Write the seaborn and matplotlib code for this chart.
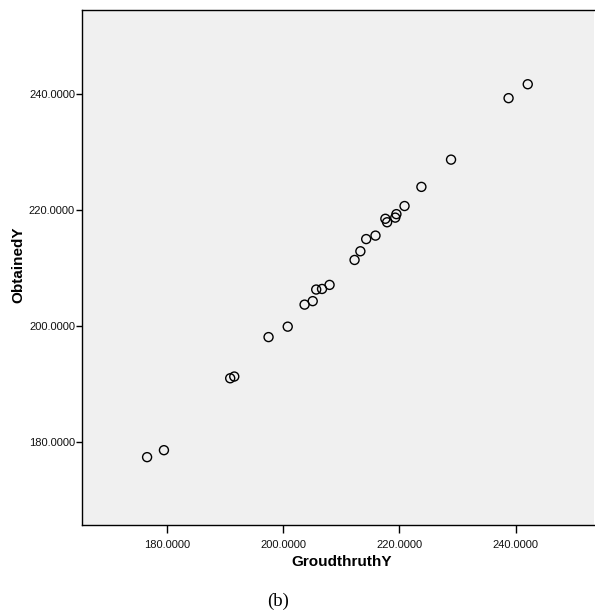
import matplotlib
matplotlib.use("Agg")
import matplotlib.pyplot as plt
import seaborn as sns
import pandas as pd
from matplotlib.ticker import FixedLocator, FuncFormatter

# Data
groundtruth_y = [176.6, 179.5, 190.9, 191.6, 197.5, 200.8, 203.7, 205.1, 205.7, 206.7,
                 208.0, 212.3, 213.3, 214.3, 215.9, 217.6, 217.9, 219.3, 219.5, 220.9,
                 223.8, 228.9, 238.8, 242.1]
obtained_y = [177.4, 178.6, 191.0, 191.3, 198.1, 199.9, 203.7, 204.3, 206.3, 206.4,
              207.1, 211.4, 212.9, 215.0, 215.6, 218.5, 217.9, 218.7, 219.3, 220.7,
              224.0, 228.7, 239.3, 241.7]
tick_values = [180, 200, 220, 240]
x_label = "GroudthruthY"
y_label = "ObtainedY"
caption = "(b)"

df = pd.DataFrame({x_label: groundtruth_y, y_label: obtained_y})

sns.set_theme(style="white")
plt.rcParams['font.family'] = ['Liberation Sans', 'DejaVu Sans']

fig = plt.figure(figsize=(5.95, 6.11), dpi=100)
ax = fig.add_axes([82/595, 1 - 525/611, (594 - 82)/595, (525 - 10)/611])
ax.set_facecolor("#f0f0f0")

sns.scatterplot(data=df, x=x_label, y=y_label, ax=ax, marker="o",
                facecolor="none", edgecolor="black", linewidth=1.0, s=42)

ax.set_xlim(165.4, 253.5)
ax.set_ylim(165.7, 254.5)
fmt = FuncFormatter(lambda v, p: f"{v:.4f}")
ax.xaxis.set_major_locator(FixedLocator(tick_values))
ax.yaxis.set_major_locator(FixedLocator(tick_values))
ax.xaxis.set_major_formatter(fmt)
ax.yaxis.set_major_formatter(fmt)

for side in ["left", "bottom", "top"]:
    ax.spines[side].set_visible(True)
    ax.spines[side].set_color("black")
    ax.spines[side].set_linewidth(1.0)
ax.spines["right"].set_visible(False)

ax.tick_params(axis="x", which="major", direction="out", length=6, width=1,
               color="black", labelsize=8, labelcolor="#111111",
               bottom=True, top=False, pad=5)
ax.tick_params(axis="y", which="major", direction="out", length=4.5, width=1,
               color="black", labelsize=8, labelcolor="#111111",
               left=True, right=False, pad=0.5)

ax.set_xlabel(x_label, fontsize=11, fontweight="bold", color="black")
ax.set_ylabel(y_label, fontsize=11, fontweight="bold", color="black")
ax.xaxis.set_label_coords((341.7 - 82) / 512, (525 - 562) / 515)
ax.yaxis.set_label_coords((18 - 82) / 512, (525 - 265) / 515)
ax.xaxis.label.set_va("center")
ax.yaxis.label.set_va("center")

fig.text(278/595, 1 - 601/611, caption, ha="center", va="center",
         fontsize=13.5, color="black", family=["Liberation Serif", "DejaVu Serif"])

fig.savefig("out.png", dpi=100, facecolor="white")
